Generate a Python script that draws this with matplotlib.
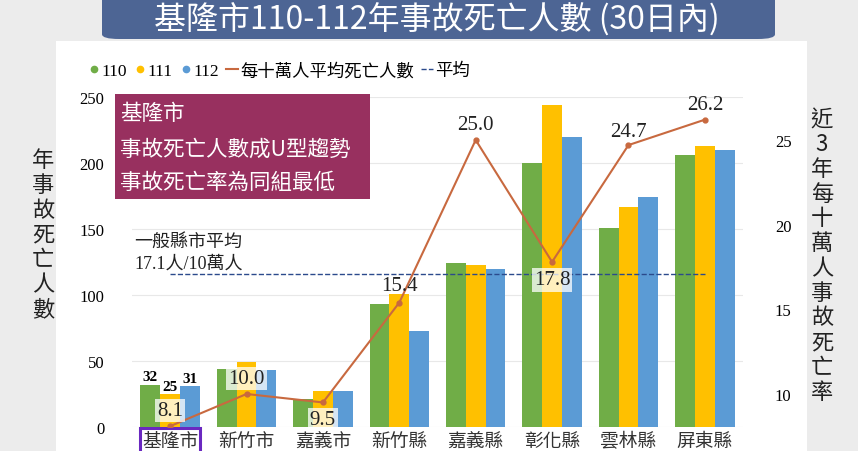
import numpy as np
import matplotlib
matplotlib.use('Agg')
import matplotlib.pyplot as plt
from matplotlib.patches import Rectangle, FancyBboxPatch
from matplotlib.lines import Line2D

# data
counties = ['基隆市', '新竹市', '嘉義市', '新竹縣', '嘉義縣', '彰化縣', '雲林縣', '屏東縣']
deaths_110 = [32, 44, 21, 93, 124, 200, 151, 206]
deaths_111 = [25, 49, 27, 101, 123, 244, 167, 213]
deaths_112 = [31, 43, 27, 73, 120, 220, 174, 210]
rate = [8.1, 10.0, 9.5, 15.4, 25.0, 17.8, 24.7, 26.2]
rate_offsets = [11, 11, -12, 12, 11, -13, 10, 11]  # label offset (pt), above/below point
boxed = [True, True, True, False, False, True, False, False]
avg_rate = 17.1
left_ticks = [0, 50, 100, 150, 200, 250]
right_ticks = [10, 15, 20, 25]

W, H = 858, 452
SERIF = ['Liberation Serif', 'Noto Sans CJK TC']
CJK = ['Noto Sans CJK TC', 'DejaVu Sans']
c_green, c_yellow, c_blue = '#70AD47', '#FFC000', '#5B9BD5'
c_line = '#C8693F'
c_avg = '#2B4A8C'

fig = plt.figure(figsize=(W / 100, H / 100), dpi=100)
fig.patch.set_facecolor('#ECECEC')


def px(x, y):
    return x / W, 1 - y / H


# white panel + title banner
fig.patches.append(Rectangle(px(56, 452), (807 - 56) / W, (452 - 42) / H,
                             transform=fig.transFigure, facecolor='white', edgecolor='none', zorder=-2))
fig.patches.append(FancyBboxPatch(px(102, 40), (775 - 102) / W, 60 / H,
                                  boxstyle='round,pad=0,rounding_size=0.02',
                                  transform=fig.transFigure, facecolor='#4D6594',
                                  edgecolor='none', zorder=-1, mutation_aspect=H / W))
fig.text(*px(437, 20), '基隆市110-112年事故死亡人數 (30日內)', color='white',
         fontsize=23, family=CJK, ha='center', va='center')

ax = fig.add_axes([132 / W, 1 - 428 / H, (743 - 132) / W, 330 / H])
ax.set_facecolor('none')
x = np.arange(len(counties))
bw = 0.26
b1 = ax.bar(x - bw, deaths_110, bw, color=c_green, zorder=2)
b2 = ax.bar(x, deaths_111, bw, color=c_yellow, zorder=2)
b3 = ax.bar(x + bw, deaths_112, bw, color=c_blue, zorder=2)
ax.set_ylim(0, 250)
ax.set_xlim(-0.5, len(counties) - 0.5)
ax.set_yticks(left_ticks)
ax.grid(axis='y', color='#E8E8E8', linewidth=0.8, zorder=0)
ax.set_axisbelow(True)
for s in ax.spines.values():
    s.set_visible(False)
ax.tick_params(length=0)
ax.tick_params(axis='y', pad=20, labelsize=12)
for t in ax.get_yticklabels():
    t.set_family(SERIF)
ax.set_xticks(x)
ax.set_xticklabels(counties, family=CJK, fontsize=13.5, color='#333333')
ax.tick_params(axis='x', pad=2)
ax.get_xticklabels()[0].set_bbox(dict(boxstyle='square,pad=0.1', facecolor='none',
                                      edgecolor='#6A28C0', linewidth=2.2))

# bold labels on Keelung bars
for bars in (b1, b2, b3):
    r = bars[0]
    ax.text(r.get_x() + r.get_width() / 2, r.get_height() + 1, str(int(r.get_height())),
            ha='center', va='bottom', fontsize=11, fontweight='bold', family=SERIF, zorder=5)

# rate line on right axis
ax2 = ax.twinx()
ax2.set_ylim(8.05, 27.54)
ax2.set_yticks(right_ticks)
for s in ax2.spines.values():
    s.set_visible(False)
ax2.tick_params(length=0, pad=23, labelsize=12)
for t in ax2.get_yticklabels():
    t.set_family(SERIF)
ax2.plot(x, rate, color=c_line, linewidth=1.5, marker='o', markersize=3.5, zorder=4)
ax2.plot([x[0], x[-1]], [avg_rate, avg_rate], color=c_avg, linestyle='--', linewidth=1, zorder=3)
for xi, v, off, bx in zip(x, rate, rate_offsets, boxed):
    kw = dict(bbox=dict(boxstyle='square,pad=0.1', facecolor='white', alpha=0.75,
                        edgecolor='none')) if bx else {}
    ax2.annotate(f'{v:.1f}', (xi, v), xytext=(0, off), textcoords='offset points',
                 ha='center', va='center', fontsize=15, family=SERIF, color='#222222',
                 zorder=6, **kw)

# average note
fig.text(*px(134, 243), '一般縣市平均', fontsize=13, family=CJK, va='center', color='#222222')
fig.text(*px(134, 264), '17.1人/10萬人', fontsize=13, family=SERIF, va='center', color='#222222')

# annotation box
fig.patches.append(Rectangle(px(115, 200), 255 / W, 105 / H, transform=fig.transFigure,
                             facecolor='#98305F', edgecolor='none', zorder=5))
for yy, s in zip([114, 150, 183], ['基隆市', '事故死亡人數成U型趨勢', '事故死亡率為同組最低']):
    fig.text(*px(120, yy), s, fontsize=15.5, family=CJK, color='white', va='center', zorder=6)

# axis titles as stacked characters
fig.text(*px(43, 235), '\n'.join('年事故死亡人數'), fontsize=16, family=CJK,
         ha='center', va='center', linespacing=1.1, color='#222222')
fig.text(*px(822, 256), '\n'.join('近3年每十萬人事故死亡率'), fontsize=16, family=CJK,
         ha='center', va='center', linespacing=1.1, color='#222222')

# legend
handles = [Line2D([], [], marker='o', color=c_green, linestyle='none', markersize=4.5),
           Line2D([], [], marker='o', color=c_yellow, linestyle='none', markersize=4.5),
           Line2D([], [], marker='o', color=c_blue, linestyle='none', markersize=4.5),
           Line2D([], [], color=c_line, linewidth=1.5),
           Line2D([], [], color=c_avg, linestyle='--', linewidth=1)]
leg = fig.legend(handles, ['110', '111', '112', '每十萬人平均死亡人數', '平均'],
                 loc='center left', bbox_to_anchor=px(72, 72), ncol=5, frameon=False,
                 handlelength=0.7, handletextpad=0.1, columnspacing=0.4,
                 prop=dict(family=SERIF, size=12.5))

fig.savefig('out.png', dpi=100, facecolor=fig.get_facecolor())
